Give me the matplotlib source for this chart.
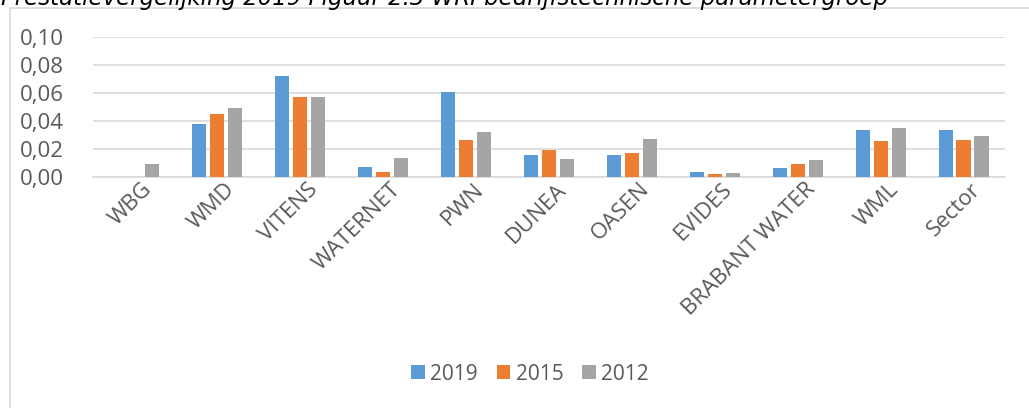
import numpy as np
import matplotlib.pyplot as plt
import matplotlib.transforms as mtransforms
from matplotlib.patches import Rectangle

categories = ['WBG', 'WMD', 'VITENS', 'WATERNET', 'PWN', 'DUNEA', 'OASEN',
              'EVIDES', 'BRABANT WATER', 'WML', 'Sector']
years = ['2019', '2015', '2012']
v2019 = [0.0, 0.0376, 0.0724, 0.0074, 0.0605, 0.0155, 0.0155, 0.0036, 0.0062, 0.0338, 0.0338]
v2015 = [0.0, 0.0448, 0.0569, 0.0036, 0.0264, 0.0193, 0.0174, 0.0021, 0.0091, 0.0255, 0.0264]
v2012 = [0.0090, 0.0495, 0.0569, 0.0136, 0.0319, 0.0126, 0.0274, 0.0026, 0.0119, 0.0348, 0.0293]
yticks = [0.00, 0.02, 0.04, 0.06, 0.08, 0.10]

colors = ['#5B9BD5', '#ED7D31', '#A5A5A5']
txt = '#595959'
plt.rcParams['font.family'] = ['Open Sans', 'DejaVu Sans']

fig = plt.figure(figsize=(10.29, 4.08), dpi=100)
W, H = 1029, 408

# chart frame (cut off at right/bottom)
fig.patches.append(Rectangle((10 / W, -0.01), 1.1, (H - 8) / H + 0.01,
                             transform=fig.transFigure, fill=False,
                             ec='#D9D9D9', lw=1.2))
# page caption above the chart, its top half cut off as in the source
fig.text(1 / W, 1 - 5 / H, 'Prestatievergelijking 2019 Figuur 2.3 WRI bedrijfstechnische parametergroep',
         fontsize=16.5, style='italic', family='DejaVu Sans', color='black',
         ha='left', va='baseline')

ax = fig.add_axes([93 / W, 1 - 177 / H, (1005 - 93) / W, 140 / H])
x = np.arange(len(categories))
width = 0.17
step = 0.217
for i, (vals, c, lab) in enumerate(zip([v2019, v2015, v2012], colors, years)):
    ax.bar(x + (i - 1) * step, vals, width, color=c, label=lab, zorder=3)

ax.set_xlim(-0.5, len(categories) - 0.5)
ax.set_ylim(0, 0.10)
ax.set_yticks(yticks)
ax.set_yticklabels([f'{t:.2f}'.replace('.', ',') for t in yticks])
ax.yaxis.grid(True, color='#D9D9D9', lw=1.2, zorder=0)
for s in ax.spines.values():
    s.set_visible(False)
ax.spines['bottom'].set_visible(True)
ax.spines['bottom'].set_color('#D9D9D9')
ax.spines['bottom'].set_linewidth(1.2)
ax.tick_params(axis='y', length=0, labelsize=16, labelcolor=txt, pad=21)
ax.tick_params(axis='x', length=0, labelsize=16, labelcolor=txt, pad=10)
ax.set_xticks(x)
ax.set_xticklabels(categories, rotation=45, ha='right', rotation_mode='anchor')
shift = mtransforms.ScaledTranslation(0.07, 0.12, fig.dpi_scale_trans)
for lbl in ax.get_xticklabels():
    lbl.set_transform(lbl.get_transform() + shift)

leg = fig.legend(loc='center', bbox_to_anchor=(530 / W, 1 - 374 / H), ncol=3,
                 frameon=False, fontsize=15, handlelength=0.67, handleheight=0.67,
                 handletextpad=0.25, columnspacing=0.9)
for t in leg.get_texts():
    t.set_color(txt)

fig.savefig('out.png', dpi=100)
